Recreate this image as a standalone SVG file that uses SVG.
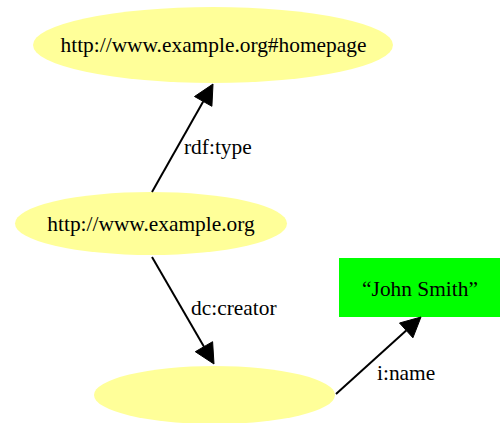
<svg xmlns="http://www.w3.org/2000/svg" width="500" height="423" viewBox="0 0 500 423">
  <style>
    .res { fill: #ffff99; stroke: none; }
    .lit { fill: #00ff00; stroke: none; }
    text { font-family: "Liberation Serif", "Times New Roman", serif; font-size: 21.4px; fill: #000; }
    .c { text-anchor: middle; }
    .edge line { stroke: #000; stroke-width: 2; }
    .edge polygon { fill: #000; stroke: #000; stroke-width: 1; }
  </style>
  <rect width="500" height="423" fill="#fff"/>

  <g id="homepage">
    <ellipse class="res" cx="213" cy="45" rx="180" ry="38"/>
    <text class="c" x="213.5" y="52">http://www.example.org#homepage</text>
  </g>

  <g id="site">
    <ellipse class="res" cx="151" cy="223.5" rx="136" ry="31.5"/>
    <text class="c" x="151" y="231">http://www.example.org</text>
  </g>

  <g id="creator">
    <ellipse class="res" cx="214.5" cy="395" rx="120.5" ry="29"/>
  </g>

  <g id="name">
    <rect class="lit" x="339" y="258" width="162" height="59"/>
    <text class="c" x="420" y="296">“John Smith”</text>
  </g>

  <g id="edges" class="edge">
    <line x1="152" y1="192" x2="203.2" y2="101.4"/>
    <polygon points="213,84 194.5,96.5 211.9,106.3"/>
    <text x="184" y="154">rdf:type</text>

    <line x1="152" y1="257" x2="204" y2="346.7"/>
    <polygon points="214,364 212.6,341.7 195.3,351.7"/>
    <text x="191" y="315">dc:creator</text>

    <line x1="336" y1="394" x2="406.2" y2="330.4"/>
    <polygon points="421,317 399.5,323 412.9,337.8"/>
    <text x="377" y="380">i:name</text>
  </g>
</svg>
